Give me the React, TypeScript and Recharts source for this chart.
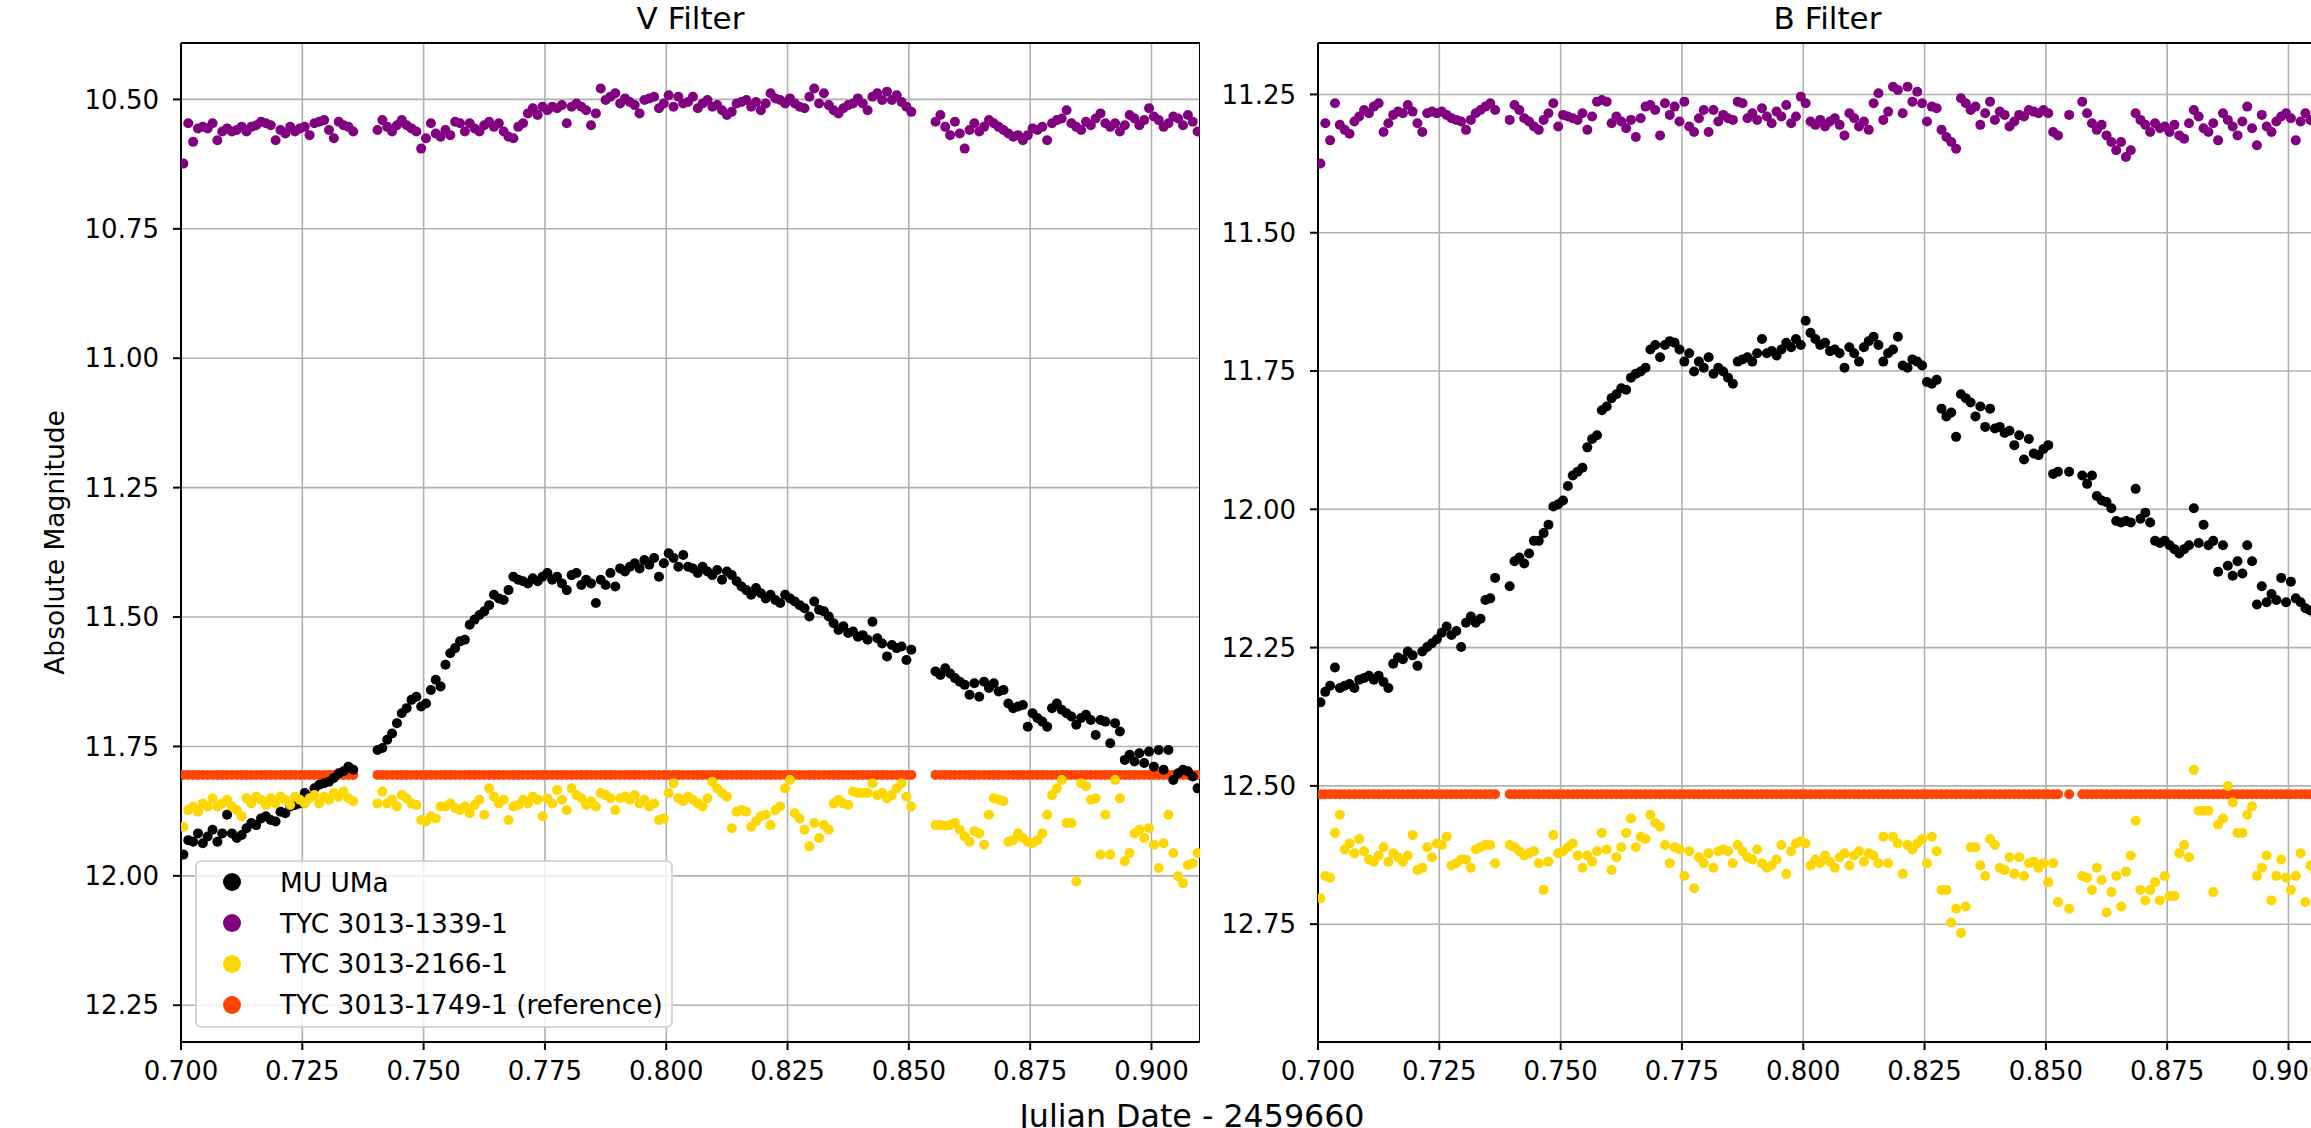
import { CartesianGrid, ReferenceLine, Scatter, ScatterChart, XAxis, YAxis } from "recharts";

// ---- axes ----
const X_TICKS = [0.7, 0.725, 0.75, 0.775, 0.8, 0.825, 0.85, 0.875, 0.9];
const V_Y_TICKS = [10.5, 10.75, 11, 11.25, 11.5, 11.75, 12, 12.25];
const B_Y_TICKS = [11.25, 11.5, 11.75, 12, 12.25, 12.5, 12.75];

// ---- V filter (JD - 2459660) ----
const vTimes = [
  0.7005, 0.7015, 0.7025, 0.7035, 0.7045, 0.7055, 0.7065, 0.7075, 0.7085, 0.7095,
  0.7105, 0.7115, 0.7125, 0.7135, 0.7145, 0.7155, 0.7165, 0.7175, 0.7185, 0.7195,
  0.7205, 0.7215, 0.7225, 0.7235, 0.7245, 0.7255, 0.7265, 0.7275, 0.7285, 0.7295,
  0.7305, 0.7315, 0.7325, 0.7335, 0.7345, 0.7355,
  0.7405, 0.7415, 0.7425, 0.7435, 0.7445, 0.7455, 0.7465, 0.7475, 0.7485, 0.7495,
  0.7505, 0.7515, 0.7525, 0.7535, 0.7545, 0.7555, 0.7565, 0.7575, 0.7585, 0.7595,
  0.7605, 0.7615, 0.7625, 0.7635, 0.7645, 0.7655, 0.7665, 0.7675, 0.7685, 0.7695,
  0.7705, 0.7715, 0.7725, 0.7735, 0.7745, 0.7755, 0.7765, 0.7775, 0.7785, 0.7795,
  0.7805, 0.7815, 0.7825, 0.7835, 0.7845, 0.7855, 0.7865, 0.7875, 0.7885, 0.7895,
  0.7905, 0.7915, 0.7925, 0.7935, 0.7945, 0.7955, 0.7965, 0.7975, 0.7985, 0.7995,
  0.8005, 0.8015, 0.8025, 0.8035, 0.8045, 0.8055, 0.8065, 0.8075, 0.8085, 0.8095,
  0.8105, 0.8115, 0.8125, 0.8135, 0.8145, 0.8155, 0.8165, 0.8175, 0.8185, 0.8195,
  0.8205, 0.8215, 0.8225, 0.8235, 0.8245, 0.8255, 0.8265, 0.8275, 0.8285, 0.8295,
  0.8305, 0.8315, 0.8325, 0.8335, 0.8345, 0.8355, 0.8365, 0.8375, 0.8385, 0.8395,
  0.8405, 0.8415, 0.8425, 0.8435, 0.8445, 0.8455, 0.8465, 0.8475, 0.8485, 0.8495,
  0.8505,
  0.8555, 0.8565, 0.8575, 0.8585, 0.8595,
  0.8605, 0.8615, 0.8625, 0.8635, 0.8645, 0.8655, 0.8665, 0.8675, 0.8685, 0.8695,
  0.8705, 0.8715, 0.8725, 0.8735, 0.8745, 0.8755, 0.8765, 0.8775, 0.8785, 0.8795,
  0.8805, 0.8815, 0.8825, 0.8835, 0.8845, 0.8855, 0.8865, 0.8875, 0.8885, 0.8895,
  0.8905, 0.8915, 0.8925, 0.8935, 0.8945, 0.8955, 0.8965, 0.8975, 0.8985, 0.8995,
  0.9005, 0.9015, 0.9025, 0.9035, 0.9045, 0.9055, 0.9065, 0.9075, 0.9085, 0.9095,
];

const vMuUMa = [
  11.959, 11.931, 11.934, 11.918, 11.937, 11.924, 11.911, 11.934, 11.918, 11.882,
  11.918, 11.927, 11.921, 11.908, 11.898, 11.902, 11.889, 11.885, 11.892, 11.895,
  11.876, 11.879, 11.866, 11.863, 11.86, 11.84, 11.847, 11.831, 11.824, 11.821,
  11.818, 11.811, 11.802, 11.798, 11.789, 11.795,
  11.757, 11.753, 11.737, 11.725, 11.705, 11.686, 11.676, 11.66, 11.654, 11.673,
  11.667, 11.641, 11.621, 11.634, 11.592, 11.57, 11.56, 11.547, 11.544, 11.515,
  11.505, 11.496, 11.489, 11.477, 11.457, 11.464, 11.467, 11.448, 11.422, 11.428,
  11.431, 11.435, 11.425, 11.431, 11.422, 11.415, 11.428, 11.422, 11.435, 11.448,
  11.419, 11.415, 11.438, 11.428, 11.435, 11.473, 11.428, 11.438, 11.415, 11.441,
  11.406, 11.412, 11.403, 11.396, 11.406, 11.39, 11.399, 11.386, 11.422, 11.396,
  11.377, 11.386, 11.403, 11.38, 11.403, 11.406, 11.415, 11.403, 11.412, 11.419,
  11.409, 11.428, 11.412, 11.419, 11.431, 11.441, 11.448, 11.457, 11.444, 11.454,
  11.464, 11.457, 11.467, 11.473, 11.457, 11.464, 11.47, 11.477, 11.483, 11.499,
  11.47, 11.486, 11.489, 11.499, 11.512, 11.525, 11.518, 11.531, 11.528, 11.538,
  11.535, 11.544, 11.509, 11.541, 11.551, 11.576, 11.554, 11.56, 11.557, 11.583,
  11.563,
  11.605, 11.612, 11.599, 11.609, 11.618,
  11.625, 11.631, 11.65, 11.628, 11.654, 11.625, 11.637, 11.628, 11.644, 11.641,
  11.667, 11.676, 11.673, 11.67, 11.712, 11.686, 11.695, 11.702, 11.712, 11.676,
  11.667, 11.679, 11.686, 11.692, 11.708, 11.695, 11.689, 11.699, 11.728, 11.699,
  11.702, 11.744, 11.705, 11.721, 11.776, 11.766, 11.779, 11.763, 11.782, 11.76,
  11.789, 11.757, 11.795, 11.757, 11.815, 11.802, 11.795, 11.798, 11.808, 11.831,
];

const vTyc1339 = [
  10.624, 10.546, 10.582, 10.556, 10.553, 10.556, 10.546, 10.579, 10.562, 10.556,
  10.562, 10.559, 10.553, 10.562, 10.553, 10.55, 10.543, 10.546, 10.55, 10.579,
  10.559, 10.566, 10.553, 10.562, 10.556, 10.553, 10.569, 10.546, 10.543, 10.54,
  10.559, 10.575, 10.543, 10.55, 10.553, 10.562,
  10.559, 10.54, 10.553, 10.562, 10.55, 10.54, 10.55, 10.556, 10.562, 10.595,
  10.575, 10.546, 10.566, 10.572, 10.559, 10.569, 10.543, 10.546, 10.562, 10.546,
  10.556, 10.562, 10.55, 10.543, 10.553, 10.546, 10.562, 10.572, 10.575, 10.553,
  10.546, 10.527, 10.517, 10.53, 10.514, 10.521, 10.514, 10.517, 10.511, 10.546,
  10.514, 10.508, 10.514, 10.521, 10.55, 10.527, 10.479, 10.501, 10.495, 10.488,
  10.508, 10.498, 10.505, 10.511, 10.527, 10.501, 10.498, 10.495, 10.517, 10.508,
  10.492, 10.514, 10.495, 10.508, 10.505, 10.495, 10.517, 10.508, 10.501, 10.514,
  10.511, 10.521, 10.53, 10.524, 10.508, 10.505, 10.501, 10.514, 10.505, 10.521,
  10.508, 10.488, 10.498, 10.501, 10.508, 10.498, 10.508, 10.514, 10.517, 10.495,
  10.479, 10.508, 10.488, 10.511, 10.521, 10.527, 10.517, 10.511, 10.508, 10.498,
  10.508, 10.521, 10.495, 10.488, 10.501, 10.485, 10.501, 10.492, 10.505, 10.514,
  10.524,
  10.543, 10.53, 10.553, 10.569, 10.543,
  10.566, 10.595, 10.559, 10.546, 10.562, 10.553, 10.54, 10.546, 10.553, 10.559,
  10.566, 10.572, 10.569, 10.579, 10.569, 10.556, 10.559, 10.553, 10.579, 10.546,
  10.54, 10.537, 10.521, 10.546, 10.553, 10.559, 10.543, 10.55, 10.537, 10.527,
  10.546, 10.553, 10.546, 10.562, 10.55, 10.53, 10.537, 10.55, 10.54, 10.517,
  10.533, 10.54, 10.553, 10.546, 10.533, 10.537, 10.55, 10.53, 10.543, 10.562,
];

const vTyc2166 = [
  11.905, 11.873, 11.866, 11.876, 11.86, 11.866, 11.85, 11.866, 11.86, 11.853,
  11.866, 11.873, 11.885, 11.85, 11.86, 11.847, 11.853, 11.863, 11.85, 11.86,
  11.847, 11.853, 11.863, 11.847, 11.853, 11.86, 11.85, 11.844, 11.86, 11.847,
  11.853, 11.84, 11.847, 11.837, 11.85, 11.856,
  11.86, 11.837, 11.86, 11.853, 11.866, 11.844, 11.85, 11.86, 11.863, 11.892,
  11.895, 11.885, 11.889, 11.866, 11.866, 11.86, 11.869, 11.873, 11.866, 11.879,
  11.863, 11.853, 11.882, 11.831, 11.847, 11.86, 11.853, 11.892, 11.866, 11.863,
  11.853, 11.86, 11.847, 11.853, 11.885, 11.85, 11.86, 11.834, 11.853, 11.873,
  11.831, 11.844, 11.85, 11.863, 11.856, 11.866, 11.84, 11.844, 11.85, 11.873,
  11.85, 11.847, 11.853, 11.844, 11.86, 11.853, 11.866, 11.86, 11.892, 11.889,
  11.84, 11.821, 11.85, 11.856, 11.847, 11.853, 11.86, 11.866, 11.85, 11.818,
  11.831, 11.84, 11.847, 11.908, 11.876, 11.873, 11.876, 11.905, 11.895, 11.885,
  11.882, 11.902, 11.873, 11.866, 11.831, 11.815, 11.879, 11.889, 11.911, 11.943,
  11.898, 11.927, 11.902, 11.911, 11.86, 11.853, 11.86, 11.863, 11.837, 11.84,
  11.84, 11.84, 11.821, 11.844, 11.84, 11.85, 11.844, 11.831, 11.821, 11.847,
  11.866,
  11.902, 11.902, 11.903, 11.902, 11.898,
  11.911, 11.924, 11.934, 11.914, 11.918, 11.94, 11.882, 11.85, 11.853, 11.856,
  11.934, 11.931, 11.918, 11.927, 11.934, 11.937, 11.931, 11.918, 11.882, 11.844,
  11.831, 11.815, 11.898, 11.898, 12.011, 11.821, 11.827, 11.853, 11.85, 11.959,
  11.882, 11.959, 11.815, 11.85, 11.972, 11.956, 11.918, 11.911, 11.927, 11.908,
  11.94, 11.985, 11.937, 11.882, 11.956, 12.001, 12.014, 11.979, 11.976, 11.956,
];

const vTyc1749 = [
  11.805, 11.805, 11.805, 11.805, 11.805, 11.805, 11.805, 11.805, 11.805, 11.805,
  11.805, 11.805, 11.805, 11.805, 11.805, 11.805, 11.805, 11.805, 11.805, 11.805,
  11.805, 11.805, 11.805, 11.805, 11.805, 11.805, 11.805, 11.805, 11.805, 11.805,
  11.805, 11.805, 11.805, 11.805, 11.805, 11.805,
  11.805, 11.805, 11.805, 11.805, 11.805, 11.805, 11.805, 11.805, 11.805, 11.805,
  11.805, 11.805, 11.805, 11.805, 11.805, 11.805, 11.805, 11.805, 11.805, 11.805,
  11.805, 11.805, 11.805, 11.805, 11.805, 11.805, 11.805, 11.805, 11.805, 11.805,
  11.805, 11.805, 11.805, 11.805, 11.805, 11.805, 11.805, 11.805, 11.805, 11.805,
  11.805, 11.805, 11.805, 11.805, 11.805, 11.805, 11.805, 11.805, 11.805, 11.805,
  11.805, 11.805, 11.805, 11.805, 11.805, 11.805, 11.805, 11.805, 11.805, 11.805,
  11.805, 11.805, 11.805, 11.805, 11.805, 11.805, 11.805, 11.805, 11.805, 11.805,
  11.805, 11.805, 11.805, 11.805, 11.805, 11.805, 11.805, 11.805, 11.805, 11.805,
  11.805, 11.805, 11.805, 11.805, 11.805, 11.805, 11.805, 11.805, 11.805, 11.805,
  11.805, 11.805, 11.805, 11.805, 11.805, 11.805, 11.805, 11.805, 11.805, 11.805,
  11.805, 11.805, 11.805, 11.805, 11.805, 11.805, 11.805, 11.805, 11.805, 11.805,
  11.805,
  11.805, 11.805, 11.805, 11.805, 11.805,
  11.805, 11.805, 11.805, 11.805, 11.805, 11.805, 11.805, 11.805, 11.805, 11.805,
  11.805, 11.805, 11.805, 11.805, 11.805, 11.805, 11.805, 11.805, 11.805, 11.805,
  11.805, 11.805, 11.805, 11.805, 11.805, 11.805, 11.805, 11.805, 11.805, 11.805,
  11.805, 11.805, 11.805, 11.805, 11.805, 11.805, 11.805, 11.805, 11.805, 11.805,
  11.805, 11.805, 11.805, 11.805, 11.805, 11.805, 11.805, 11.805, 11.805, 11.805,
];

// ---- B filter ----
const bTimes = [
  0.7005, 0.7015, 0.7025, 0.7035, 0.7045, 0.7055, 0.7065, 0.7075, 0.7085, 0.7095,
  0.7105, 0.7115, 0.7125, 0.7135, 0.7145, 0.7155, 0.7165, 0.7175, 0.7185, 0.7195,
  0.7205, 0.7215, 0.7225, 0.7235, 0.7245, 0.7255, 0.7265, 0.7275, 0.7285, 0.7295,
  0.7305, 0.7315, 0.7325, 0.7335, 0.7345, 0.7355, 0.7365,
  0.7395,
  0.7405, 0.7415, 0.7425, 0.7435, 0.7445, 0.7455, 0.7465, 0.7475, 0.7485, 0.7495,
  0.7505, 0.7515, 0.7525, 0.7535, 0.7545, 0.7555, 0.7565, 0.7575, 0.7585, 0.7595,
  0.7605, 0.7615, 0.7625, 0.7635, 0.7645, 0.7655, 0.7665, 0.7675, 0.7685, 0.7695,
  0.7705, 0.7715, 0.7725, 0.7735, 0.7745, 0.7755, 0.7765, 0.7775, 0.7785, 0.7795,
  0.7805, 0.7815, 0.7825, 0.7835, 0.7845, 0.7855, 0.7865, 0.7875, 0.7885, 0.7895,
  0.7905, 0.7915, 0.7925, 0.7935, 0.7945, 0.7955, 0.7965, 0.7975, 0.7985, 0.7995,
  0.8005, 0.8015, 0.8025, 0.8035, 0.8045, 0.8055, 0.8065, 0.8075, 0.8085, 0.8095,
  0.8105, 0.8115, 0.8125, 0.8135, 0.8145, 0.8155, 0.8165, 0.8175, 0.8185, 0.8195,
  0.8205, 0.8215, 0.8225, 0.8235, 0.8245, 0.8255, 0.8265, 0.8275, 0.8285, 0.8295,
  0.8305, 0.8315, 0.8325, 0.8335, 0.8345, 0.8355, 0.8365, 0.8375, 0.8385, 0.8395,
  0.8405, 0.8415, 0.8425, 0.8435, 0.8445, 0.8455, 0.8465, 0.8475, 0.8485, 0.8495,
  0.8505, 0.8515, 0.8525,
  0.8548,
  0.8575, 0.8585, 0.8595, 0.8605, 0.8615, 0.8625, 0.8635, 0.8645, 0.8655, 0.8665,
  0.8675, 0.8685, 0.8695, 0.8705, 0.8715, 0.8725, 0.8735, 0.8745, 0.8755, 0.8765,
  0.8775, 0.8785, 0.8795, 0.8805, 0.8815, 0.8825, 0.8835, 0.8845, 0.8855, 0.8865,
  0.8875, 0.8885, 0.8895, 0.8905, 0.8915, 0.8925, 0.8935, 0.8945, 0.8955, 0.8965,
  0.8975, 0.8985, 0.8995, 0.9005, 0.9015, 0.9025, 0.9035, 0.9045, 0.9055, 0.9065,
  0.9075, 0.9085, 0.9095,
];

const bMuUMa = [
  12.349, 12.33, 12.319, 12.286, 12.323, 12.319, 12.316, 12.323, 12.308, 12.305,
  12.301, 12.308, 12.301, 12.312, 12.323, 12.279, 12.268, 12.271, 12.257, 12.264,
  12.283, 12.257, 12.249, 12.242, 12.235, 12.223, 12.212, 12.227, 12.22, 12.249,
  12.205, 12.194, 12.205, 12.198, 12.164, 12.161, 12.124,
  12.139,
  12.094, 12.087, 12.098, 12.08, 12.057, 12.057, 12.043, 12.028, 11.995, 11.991,
  11.984, 11.958, 11.939, 11.932, 11.925, 11.888, 11.873, 11.866, 11.821, 11.814,
  11.799, 11.792, 11.781, 11.784, 11.762, 11.755, 11.751, 11.744, 11.711, 11.703,
  11.725, 11.703, 11.696, 11.699, 11.711, 11.733, 11.718, 11.751, 11.733, 11.744,
  11.725, 11.755, 11.744, 11.751, 11.762, 11.773, 11.733, 11.729, 11.725, 11.733,
  11.718, 11.692, 11.718, 11.714, 11.722, 11.711, 11.699, 11.707, 11.692, 11.703,
  11.659, 11.681, 11.692, 11.703, 11.699, 11.714, 11.711, 11.718, 11.744, 11.707,
  11.718, 11.733, 11.707, 11.696, 11.688, 11.703, 11.733, 11.718, 11.711, 11.688,
  11.74, 11.744, 11.729, 11.733, 11.74, 11.77, 11.773, 11.766, 11.818, 11.832,
  11.825, 11.869, 11.792, 11.799, 11.807, 11.832, 11.814, 11.851, 11.818, 11.854,
  11.851, 11.862, 11.858, 11.884, 11.866, 11.91, 11.873, 11.899, 11.902, 11.891,
  11.884, 11.936, 11.932,
  11.932,
  11.939, 11.954, 11.939, 11.976, 11.984, 11.987, 11.998, 12.021, 12.024, 12.021,
  12.024, 11.963, 12.017, 12.006, 12.024, 12.057, 12.061, 12.057, 12.065, 12.072,
  12.08, 12.072, 12.065, 11.998, 12.061, 12.028, 12.065, 12.057, 12.113, 12.065,
  12.102, 12.12, 12.094, 12.116, 12.065, 12.094, 12.172, 12.139, 12.168, 12.153,
  12.164, 12.124, 12.168, 12.131, 12.161, 12.168, 12.179, 12.183, 12.19, 12.172,
  12.194, 12.183, 12.205,
];

const bTyc1339 = [
  11.375, 11.302, 11.333, 11.266, 11.305, 11.314, 11.321, 11.299, 11.29, 11.278,
  11.284, 11.272, 11.266, 11.318, 11.302, 11.287, 11.281, 11.284, 11.269, 11.281,
  11.302, 11.318, 11.284, 11.281, 11.284, 11.281, 11.287, 11.293, 11.296, 11.299,
  11.314, 11.296, 11.284, 11.278, 11.272, 11.266, 11.278,
  11.296,
  11.269, 11.278, 11.293, 11.299, 11.308, 11.314, 11.296, 11.284, 11.266, 11.308,
  11.287, 11.29, 11.293, 11.296, 11.284, 11.314, 11.29, 11.263, 11.26, 11.263,
  11.302, 11.29, 11.299, 11.311, 11.296, 11.327, 11.293, 11.272, 11.269, 11.278,
  11.324, 11.266, 11.287, 11.272, 11.299, 11.263, 11.308, 11.318, 11.293, 11.278,
  11.318, 11.278, 11.299, 11.287, 11.293, 11.296, 11.263, 11.266, 11.293, 11.284,
  11.296, 11.275, 11.29, 11.302, 11.281, 11.29, 11.269, 11.302, 11.29, 11.254,
  11.266, 11.299, 11.305, 11.296, 11.308, 11.299, 11.293, 11.305, 11.324, 11.284,
  11.293, 11.308, 11.299, 11.314, 11.266, 11.248, 11.296, 11.281, 11.236, 11.242,
  11.284, 11.236, 11.263, 11.245, 11.266, 11.299, 11.272, 11.275, 11.314, 11.327,
  11.336, 11.348, 11.257, 11.266, 11.278, 11.272, 11.305, 11.284, 11.263, 11.296,
  11.281, 11.287, 11.308, 11.299, 11.287, 11.29, 11.278, 11.281, 11.284, 11.278,
  11.284, 11.318, 11.324,
  11.287,
  11.263, 11.284, 11.302, 11.314, 11.305, 11.324, 11.336, 11.351, 11.336, 11.363,
  11.351, 11.284, 11.296, 11.305, 11.318, 11.302, 11.311, 11.308, 11.318, 11.305,
  11.324, 11.33, 11.302, 11.278, 11.29, 11.311, 11.318, 11.302, 11.333, 11.284,
  11.296, 11.308, 11.324, 11.299, 11.272, 11.311, 11.342, 11.287, 11.308, 11.318,
  11.299, 11.29, 11.284, 11.293, 11.333, 11.299, 11.284, 11.296, 11.302, 11.29,
  11.308, 11.299, 11.293,
];

const bTyc2166 = [
  12.703, 12.663, 12.666, 12.585, 12.552, 12.615, 12.604, 12.622, 12.596, 12.618,
  12.633, 12.637, 12.626, 12.611, 12.637, 12.622, 12.629, 12.637, 12.626, 12.589,
  12.652, 12.648, 12.611, 12.629, 12.604, 12.607, 12.592, 12.644, 12.64, 12.633,
  12.633, 12.648, 12.615, 12.611, 12.607, 12.607, 12.64,
  12.607,
  12.611, 12.618, 12.626, 12.622, 12.618, 12.64, 12.688, 12.637, 12.589, 12.622,
  12.618, 12.611, 12.604, 12.626, 12.648, 12.626, 12.637, 12.618, 12.585, 12.615,
  12.652, 12.629, 12.611, 12.585, 12.559, 12.611, 12.592, 12.596, 12.552, 12.567,
  12.574, 12.607, 12.64, 12.611, 12.615, 12.663, 12.618, 12.685, 12.629, 12.64,
  12.622, 12.648, 12.618, 12.615, 12.618, 12.64, 12.607, 12.618, 12.629, 12.633,
  12.615, 12.64, 12.648, 12.644, 12.633, 12.607, 12.659, 12.618, 12.604, 12.6,
  12.604, 12.644, 12.633, 12.64, 12.626, 12.637, 12.648, 12.629, 12.622, 12.644,
  12.626, 12.618, 12.637, 12.622, 12.626, 12.64, 12.592, 12.64, 12.592, 12.604,
  12.659, 12.607, 12.615, 12.604, 12.596, 12.64, 12.592, 12.618, 12.688, 12.688,
  12.747, 12.722, 12.766, 12.718, 12.611, 12.611, 12.644, 12.663, 12.596, 12.607,
  12.648, 12.652, 12.629, 12.659, 12.629, 12.663, 12.64, 12.637, 12.648, 12.64,
  12.674, 12.64, 12.71,
  12.722,
  12.663, 12.666, 12.688, 12.648, 12.67, 12.729, 12.692, 12.663, 12.718, 12.655,
  12.626, 12.563, 12.688, 12.707, 12.688, 12.674, 12.707, 12.663, 12.699, 12.699,
  12.622, 12.607, 12.629, 12.471, 12.545, 12.545, 12.545, 12.692, 12.57, 12.559,
  12.5, 12.53, 12.585, 12.585, 12.552, 12.537, 12.663, 12.648, 12.626, 12.707,
  12.663, 12.633, 12.666, 12.688, 12.663, 12.622, 12.71, 12.644, 12.655, 12.626,
  12.67, 12.64, 12.677,
];

const bTyc1749 = [
  12.515, 12.515, 12.515, 12.515, 12.515, 12.515, 12.515, 12.515, 12.515, 12.515,
  12.515, 12.515, 12.515, 12.515, 12.515, 12.515, 12.515, 12.515, 12.515, 12.515,
  12.515, 12.515, 12.515, 12.515, 12.515, 12.515, 12.515, 12.515, 12.515, 12.515,
  12.515, 12.515, 12.515, 12.515, 12.515, 12.515, 12.515,
  12.515,
  12.515, 12.515, 12.515, 12.515, 12.515, 12.515, 12.515, 12.515, 12.515, 12.515,
  12.515, 12.515, 12.515, 12.515, 12.515, 12.515, 12.515, 12.515, 12.515, 12.515,
  12.515, 12.515, 12.515, 12.515, 12.515, 12.515, 12.515, 12.515, 12.515, 12.515,
  12.515, 12.515, 12.515, 12.515, 12.515, 12.515, 12.515, 12.515, 12.515, 12.515,
  12.515, 12.515, 12.515, 12.515, 12.515, 12.515, 12.515, 12.515, 12.515, 12.515,
  12.515, 12.515, 12.515, 12.515, 12.515, 12.515, 12.515, 12.515, 12.515, 12.515,
  12.515, 12.515, 12.515, 12.515, 12.515, 12.515, 12.515, 12.515, 12.515, 12.515,
  12.515, 12.515, 12.515, 12.515, 12.515, 12.515, 12.515, 12.515, 12.515, 12.515,
  12.515, 12.515, 12.515, 12.515, 12.515, 12.515, 12.515, 12.515, 12.515, 12.515,
  12.515, 12.515, 12.515, 12.515, 12.515, 12.515, 12.515, 12.515, 12.515, 12.515,
  12.515, 12.515, 12.515, 12.515, 12.515, 12.515, 12.515, 12.515, 12.515, 12.515,
  12.515, 12.515, 12.515,
  12.515,
  12.515, 12.515, 12.515, 12.515, 12.515, 12.515, 12.515, 12.515, 12.515, 12.515,
  12.515, 12.515, 12.515, 12.515, 12.515, 12.515, 12.515, 12.515, 12.515, 12.515,
  12.515, 12.515, 12.515, 12.515, 12.515, 12.515, 12.515, 12.515, 12.515, 12.515,
  12.515, 12.515, 12.515, 12.515, 12.515, 12.515, 12.515, 12.515, 12.515, 12.515,
  12.515, 12.515, 12.515, 12.515, 12.515, 12.515, 12.515, 12.515, 12.515, 12.515,
  12.515, 12.515, 12.515,
];

// legend order; the reference star is plotted first so the others sit on top of it
const STARS = [
  { key: "mu", name: "MU UMa", color: "#000000" },
  { key: "tyc1339", name: "TYC 3013-1339-1", color: "#800080" },
  { key: "tyc2166", name: "TYC 3013-2166-1", color: "#ffd700" },
  { key: "tyc1749", name: "TYC 3013-1749-1 (reference)", color: "#ff4500" },
];
const DRAW_ORDER = ["tyc1749", "mu", "tyc1339", "tyc2166"];

const toPoints = (times: number[], mags: number[]) =>
  times.map((t, i) => ({ t, m: mags[i] })).filter((p) => p.m !== undefined);

const vSeries: Record<string, { t: number; m: number }[]> = {
  mu: toPoints(vTimes, vMuUMa),
  tyc1339: toPoints(vTimes, vTyc1339),
  tyc2166: toPoints(vTimes, vTyc2166),
  tyc1749: toPoints(vTimes, vTyc1749),
};
const bSeries: Record<string, { t: number; m: number }[]> = {
  mu: toPoints(bTimes, bMuUMa),
  tyc1339: toPoints(bTimes, bTyc1339),
  tyc2166: toPoints(bTimes, bTyc2166),
  tyc1749: toPoints(bTimes, bTyc1749),
};

const FONT = '"DejaVu Sans", sans-serif';
const TICK = { fill: "#000", fontSize: 26 };
const LINE = { stroke: "#000", strokeWidth: 2 };

interface PanelProps {
  axisWidth: number;
  yDomain: [number, number];
  yTicks: number[];
  series: Record<string, { t: number; m: number }[]>;
}

function Panel({ axisWidth, yDomain, yTicks, series }: PanelProps) {
  return (
    <ScatterChart width={axisWidth + 1019} height={1128} margin={{ top: 43, right: 0, bottom: 26, left: 0 }}>
      <CartesianGrid stroke="#b0b0b0" strokeWidth={1.6} />
      <XAxis
        dataKey="t"
        type="number"
        domain={[0.7, 0.91]}
        ticks={X_TICKS}
        interval={0}
        allowDataOverflow
        height={60}
        tickSize={8}
        tickMargin={12}
        tick={TICK}
        axisLine={LINE}
        tickLine={LINE}
        tickFormatter={(v: number) => v.toFixed(3)}
      />
      <YAxis
        dataKey="m"
        type="number"
        reversed
        domain={yDomain}
        ticks={yTicks}
        interval={0}
        allowDataOverflow
        width={axisWidth}
        tickSize={8}
        tickMargin={14}
        tick={TICK}
        axisLine={LINE}
        tickLine={LINE}
        tickFormatter={(v: number) => v.toFixed(2)}
      />
      <ReferenceLine y={yDomain[0]} stroke="#000" strokeWidth={2} />
      <ReferenceLine x={0.91} stroke="#000" strokeWidth={2} />
      {DRAW_ORDER.map((key) => {
        const star = STARS.find((s) => s.key === key)!;
        return (
          <Scatter
            key={key}
            name={star.name}
            data={series[key]}
            fill={star.color}
            isAnimationActive={false}
            shape={(p: any) => <circle cx={p.cx} cy={p.cy} r={5} fill={star.color} />}
          />
        );
      })}
    </ScatterChart>
  );
}

export default function App() {
  return (
    <div
      style={{
        position: "absolute",
        left: 0,
        top: 0,
        width: 2311,
        height: 1128,
        overflow: "hidden",
        background: "#fff",
        fontFamily: FONT,
      }}
    >
      <div style={{ position: "absolute", left: 0, top: 0 }}>
        <Panel axisWidth={181} yDomain={[10.391, 12.321]} yTicks={V_Y_TICKS} series={vSeries} />
      </div>
      <div style={{ position: "absolute", left: 1200, top: 0 }}>
        <Panel axisWidth={118} yDomain={[11.157, 12.963]} yTicks={B_Y_TICKS} series={bSeries} />
      </div>

      <svg width={2311} height={1128} style={{ position: "absolute", left: 0, top: 0, pointerEvents: "none" }}>
        <text x={690.5} y={29} textAnchor="middle" fontSize={31} fill="#000">
          V Filter
        </text>
        <text x={1827.5} y={29} textAnchor="middle" fontSize={31} fill="#000">
          B Filter
        </text>
        <text transform="translate(64 542.5) rotate(-90)" textAnchor="middle" fontSize={26.5} fill="#000">
          Absolute Magnitude
        </text>
        <text x={1192} y={1127} textAnchor="middle" fontSize={31.7} fill="#000">
          Julian Date - 2459660
        </text>
      </svg>

      <div
        style={{
          position: "absolute",
          left: 195,
          top: 860,
          width: 478,
          height: 168,
          boxSizing: "border-box",
          background: "rgba(255,255,255,0.8)",
          border: "2px solid rgba(204,204,204,0.8)",
          borderRadius: 6,
        }}
      >
        {STARS.map((s) => (
          <div key={s.key} style={{ display: "flex", alignItems: "center", height: 40.8 }}>
            <span
              style={{
                display: "inline-block",
                width: 18,
                height: 18,
                borderRadius: "50%",
                background: s.color,
                marginLeft: 26,
                marginRight: 39,
              }}
            />
            <span style={{ fontSize: 26.4, color: "#000", whiteSpace: "nowrap" }}>{s.name}</span>
          </div>
        ))}
      </div>
    </div>
  );
}
